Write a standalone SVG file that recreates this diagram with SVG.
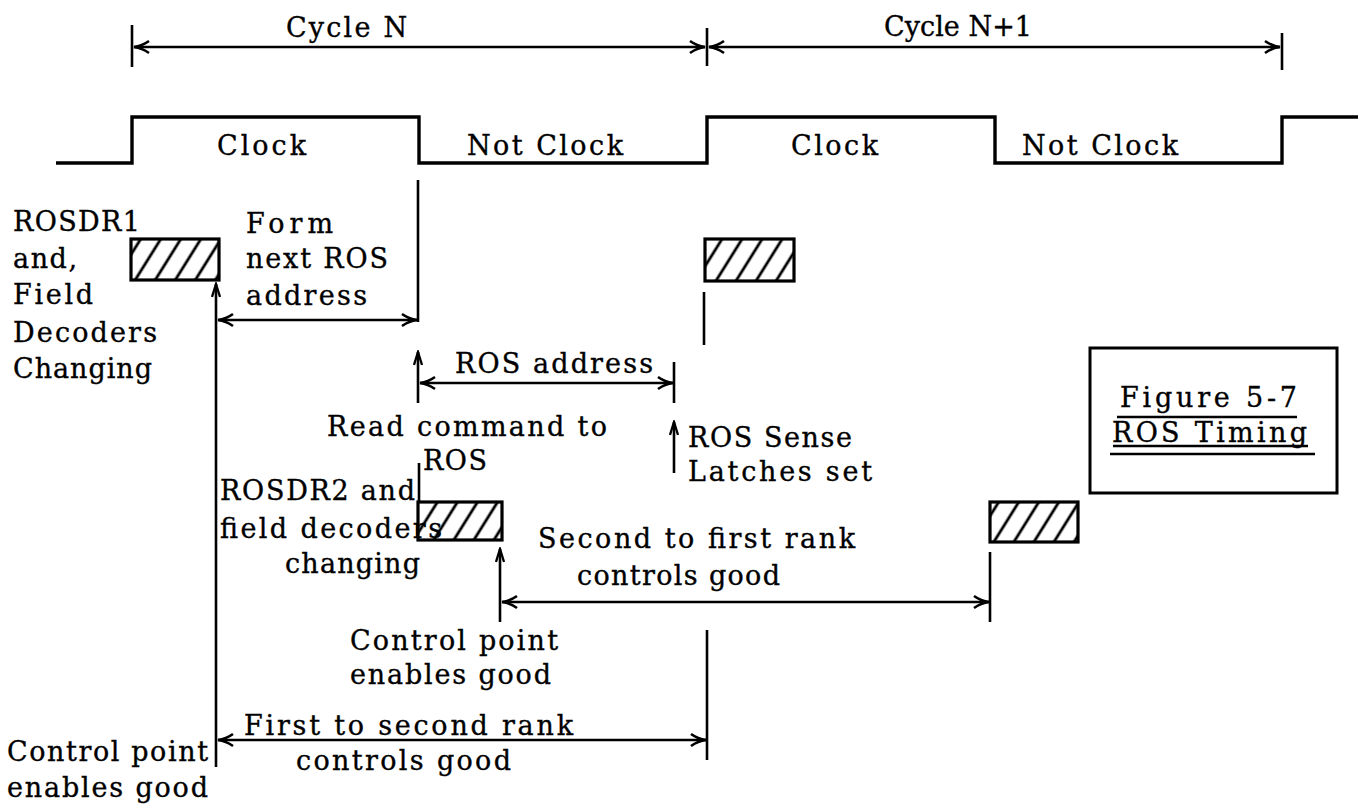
<svg xmlns="http://www.w3.org/2000/svg" width="1360" height="808" viewBox="0 0 1360 808">
<defs>
<pattern id="hatch" patternUnits="userSpaceOnUse" width="17" height="60" patternTransform="rotate(32)">
<line x1="8" y1="-10" x2="8" y2="70" stroke="#000" stroke-width="2.8"/>
</pattern>
<marker id="ah" markerUnits="userSpaceOnUse" markerWidth="20" markerHeight="16" refX="17" refY="8" orient="auto-start-reverse">
<path d="M2,2 Q9,7 17,8 Q9,9 2,14" fill="none" stroke="#000" stroke-width="2.6"/>
</marker>
<marker id="up" markerUnits="userSpaceOnUse" markerWidth="16" markerHeight="10" refX="14" refY="5" orient="auto">
<path d="M1,1 L14,5 L1,9" fill="none" stroke="#000" stroke-width="2.3"/>
</marker>
</defs>
<style>
.ln{stroke:#000;stroke-width:2.6;fill:none}
.wave{stroke:#000;stroke-width:3.4;fill:none}
.t{font-family:"DejaVu Serif",serif;font-size:27px;fill:#000;stroke:#000;stroke-width:0.35}
.box{fill:url(#hatch);stroke:#000;stroke-width:3.2}
.frame{fill:none;stroke:#000;stroke-width:3}
</style>
<rect width="1360" height="808" fill="#fff"/>

<g id="connectors">
<line class="ln" x1="132" y1="25" x2="132" y2="67"/>
<line class="ln" x1="707" y1="28" x2="707" y2="66"/>
<line class="ln" x1="1282" y1="33" x2="1282" y2="70"/>
<line class="ln" x1="134" y1="47" x2="705" y2="47" marker-start="url(#ah)" marker-end="url(#ah)"/>
<line class="ln" x1="709" y1="47" x2="1280" y2="47" marker-start="url(#ah)" marker-end="url(#ah)"/>
<path class="wave" d="M56,163 H132 V117 H419 V163 H707 V117 H995 V163 H1282 V117 H1358"/>
<line class="ln" x1="418" y1="180" x2="418" y2="322"/>
<line class="ln" x1="218" y1="320" x2="417" y2="320" marker-start="url(#ah)" marker-end="url(#ah)"/>
<line class="ln" x1="216" y1="767" x2="216" y2="284" marker-end="url(#up)"/>
<line class="ln" x1="418" y1="403" x2="418" y2="352" marker-end="url(#up)"/>
<line class="ln" x1="420" y1="383" x2="673" y2="383" marker-start="url(#ah)" marker-end="url(#ah)"/>
<line class="ln" x1="674" y1="362" x2="674" y2="403"/>
<line class="ln" x1="419" y1="463" x2="419" y2="502"/>
<line class="ln" x1="674" y1="473" x2="674" y2="422" marker-end="url(#up)"/>
<line class="ln" x1="704" y1="292" x2="704" y2="345"/>
<line class="ln" x1="500" y1="622" x2="500" y2="549" marker-end="url(#up)"/>
<line class="ln" x1="502" y1="602" x2="989" y2="602" marker-start="url(#ah)" marker-end="url(#ah)"/>
<line class="ln" x1="990" y1="552" x2="990" y2="622"/>
<line class="ln" x1="707" y1="630" x2="707" y2="760"/>
<line class="ln" x1="218" y1="740" x2="706" y2="740" marker-start="url(#ah)" marker-end="url(#ah)"/>
</g>

<g id="cycle-labels">
<text class="t" x="286" y="37" textLength="121">Cycle N</text>
<text class="t" x="884" y="36" textLength="148">Cycle N+1</text>
</g>
<g id="clock-labels">
<text class="t" x="217" y="155" textLength="89">Clock</text>
<text class="t" x="467" y="155" textLength="156">Not Clock</text>
<text class="t" x="791" y="155" textLength="87">Clock</text>
<text class="t" x="1022" y="155" textLength="156">Not Clock</text>
</g>

<g id="rosdr1-box"><rect class="box" x="131" y="239" width="88" height="41"/></g>
<g id="box-n1"><rect class="box" x="705" y="239" width="89" height="42"/></g>
<g id="rosdr2-box"><rect class="box" x="418" y="502" width="84" height="38"/></g>
<g id="box-n1b"><rect class="box" x="990" y="502" width="88" height="40"/></g>

<g id="rosdr1-label">
<text class="t" x="13" y="231" textLength="127">ROSDR1</text>
<text class="t" x="13" y="268" textLength="64">and,</text>
<text class="t" x="13" y="304" textLength="80">Field</text>
<text class="t" x="13" y="342" textLength="144">Decoders</text>
<text class="t" x="13" y="378" textLength="139">Changing</text>
</g>
<g id="form-label">
<text class="t" x="246" y="233" textLength="87">Form</text>
<text class="t" x="246" y="268" textLength="142">next ROS</text>
<text class="t" x="246" y="305" textLength="121">address</text>
</g>
<g id="ros-address-label"><text class="t" x="455" y="373" textLength="198">ROS address</text></g>
<g id="read-label">
<text class="t" x="327" y="436" textLength="280">Read command to</text>
<text class="t" x="423" y="470" textLength="64">ROS</text>
</g>
<g id="sense-label">
<text class="t" x="688" y="447" textLength="164">ROS Sense</text>
<text class="t" x="688" y="481" textLength="184">Latches set</text>
</g>
<g id="rosdr2-label">
<text class="t" x="220" y="500" textLength="195">ROSDR2 and</text>
<text class="t" x="220" y="538" textLength="222">field decoders</text>
<text class="t" x="285" y="573" textLength="135">changing</text>
</g>
<g id="second-first-label">
<text class="t" x="538" y="548" textLength="317">Second to first rank</text>
<text class="t" x="577" y="585" textLength="203">controls good</text>
</g>
<g id="cp-mid-label">
<text class="t" x="350" y="650" textLength="208">Control point</text>
<text class="t" x="350" y="684" textLength="201">enables good</text>
</g>
<g id="first-second-label">
<text class="t" x="244" y="735" textLength="329">First to second rank</text>
<text class="t" x="296" y="770" textLength="215">controls good</text>
</g>
<g id="cp-left-label">
<text class="t" x="7" y="761" textLength="201">Control point</text>
<text class="t" x="7" y="797" textLength="201">enables good</text>
</g>
<g id="figure-title">
<rect class="frame" x="1090" y="348" width="247" height="145"/>
<text class="t" x="1120" y="407" textLength="177">Figure 5-7</text>
<line class="ln" x1="1117" y1="417" x2="1297" y2="417"/>
<text class="t" x="1112" y="442" textLength="195">ROS Timing</text>
<line class="ln" x1="1113" y1="446" x2="1308" y2="446"/>
<line class="ln" x1="1110" y1="454" x2="1315" y2="454"/>
</g>
</svg>
